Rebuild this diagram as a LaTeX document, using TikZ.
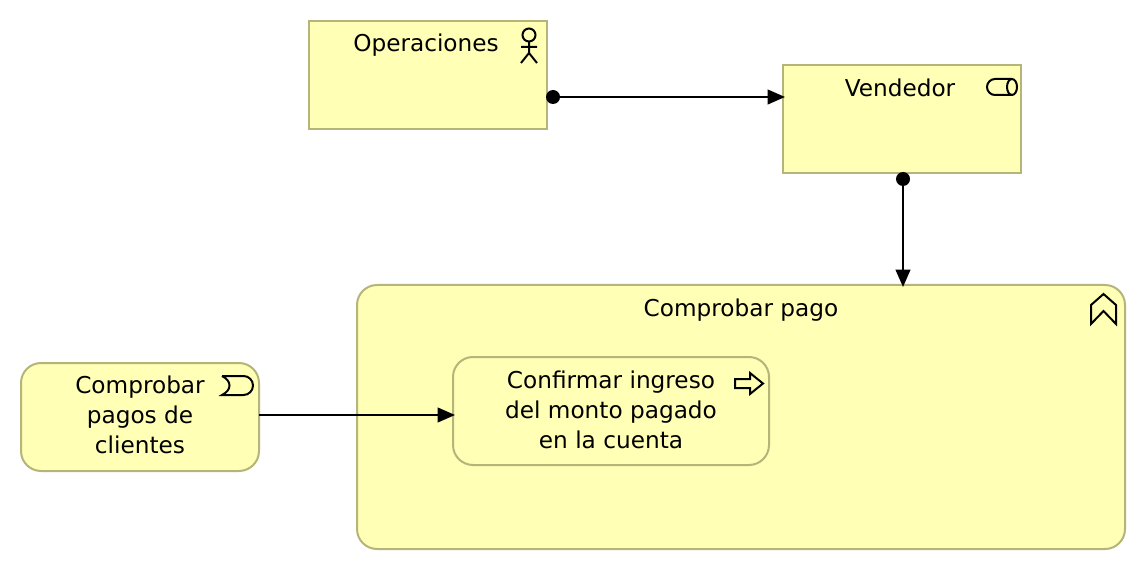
\documentclass[tikz,border=0pt]{standalone}
\usepackage{fontspec}
\setmainfont{DejaVu Sans}
\usetikzlibrary{arrows.meta}
\definecolor{boxfill}{RGB}{255,255,181}
\definecolor{boxline}{RGB}{181,181,122}
\tikzset{
    elem/.style={draw=boxline, fill=boxfill, line width=1.5pt, inner sep=0pt, outer sep=0pt},
    roundelem/.style={elem, rounded corners=15pt},
    lbl/.style={align=center, font=\fontsize{17.4}{22.5}\selectfont, inner sep=0pt},
    conn/.style={line width=1.5pt, shorten >=-1.5pt, -{Triangle[length=13pt,width=11pt]}},
    dotnode/.style={circle, fill=black, minimum size=10.5pt, inner sep=0pt},
    icon/.style={line width=1.5pt, black}
}
\begin{document}
\begin{tikzpicture}[x=0.75pt, y=-0.75pt]
    \useasboundingbox (0, 0) rectangle (1146, 570);

    \node[elem, minimum width=178.5pt, minimum height=81pt] (operaciones) at (428, 75) {};
    \node[elem, minimum width=178.5pt, minimum height=81pt] (vendedor) at (902, 119) {};
    \node[roundelem, minimum width=576pt, minimum height=198pt] (comprobarpago) at (741, 417) {};
    \node[roundelem, minimum width=178.5pt, minimum height=81pt] (comprobarpagos) at (140, 417) {};
    \node[roundelem, minimum width=237pt, minimum height=81pt] (confirmar) at (611, 411) {};

    \node[lbl] (operacioneslbl) at (426, 45) {Operaciones};
    \node[lbl] (vendedorlbl) at (900, 88) {Vendedor};
    \node[lbl] (comprobarpagolbl) at (741, 310) {Comprobar pago};
    \node[lbl] (comprobarpagoslbl) at (140, 415) {Comprobar\\pagos de\\clientes};
    \node[lbl] (confirmarlbl) at (611, 410) {Confirmar ingreso\\del monto pagado\\en la cuenta};

    % actor
    \draw[icon] (529, 35) circle (6.5);
    \draw[icon] (529, 41.5) -- (529, 53) (521, 47) -- (537, 47) (521, 63) -- (529, 53) -- (537, 63);
    % cylinder
    \draw[icon] (1012, 79) -- (995, 79) arc[start angle=270, end angle=90, radius=8] -- (1012, 95);
    \draw[icon] (1012, 79) arc[start angle=270, end angle=630, x radius=5, y radius=8];
    % chevrons
    \draw[icon, line join=miter] (1091, 324) -- (1091, 305) -- (1103.5, 294) -- (1116, 305) -- (1116, 324) -- (1103.5, 311) -- cycle;
    % event
    \draw[icon] (222, 376) -- (243.5, 376) arc[start angle=270, end angle=450, radius=9.5] -- (222, 395) .. controls (232, 390) and (232, 381) .. (222, 376);
    % arrow icon
    \draw[icon, line join=miter] (735, 379) -- (750, 379) -- (750, 373) -- (763, 383.5) -- (750, 394) -- (750, 388) -- (735, 388) -- cycle;

    \node[dotnode] (opdot) at (553, 97) {};
    \node[dotnode] (vendot) at (903, 179) {};
    \draw[conn] (opdot) -- (vendedor.west |- opdot);
    \draw[conn] (vendot) -- (vendot |- comprobarpago.north);
    \draw[conn] (comprobarpagos.east |- 0, 415) -- (confirmar.west |- 0, 415);
\end{tikzpicture}
\end{document}
